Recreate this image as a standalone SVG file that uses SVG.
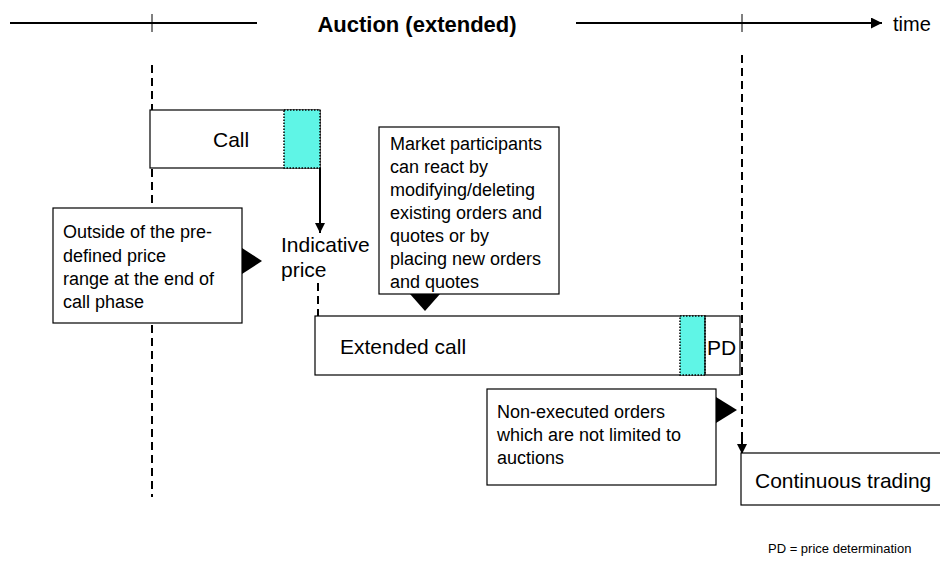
<svg xmlns="http://www.w3.org/2000/svg" width="940" height="580" viewBox="0 0 940 580">
<defs>
<marker id="ah" viewBox="0 0 10 10" refX="10" refY="5" markerWidth="5" markerHeight="5" orient="auto" markerUnits="strokeWidth">
<path d="M0,0 L10,5 L0,10 z" fill="#000"/>
</marker>
<style>
text{font-family:"Liberation Sans",Arial,sans-serif;fill:#000}
.big{font-size:21px}
.box{fill:#fff;stroke:#000;stroke-width:1.2}
.note{font-size:18px}
.cyan{fill:#5ff5e6;stroke:#000;stroke-width:1.5;stroke-dasharray:1.5 1.5}
.dash{stroke:#000;stroke-width:2;stroke-dasharray:8 5;fill:none}
.axis{stroke:#000;stroke-width:2.2;fill:none}
.tick{stroke:#000;stroke-width:1}
</style>
</defs>
<rect width="940" height="580" fill="#fff"/>

<g id="connectors">
<line class="dash" x1="152" y1="65" x2="152" y2="497"/>
<line class="dash" x1="318" y1="283" x2="318" y2="316"/>
<line class="dash" x1="742" y1="55" x2="742" y2="446"/>
<line x1="742" y1="440" x2="742" y2="454" stroke="#000" stroke-width="2" marker-end="url(#ah)"/>
<line x1="320" y1="168" x2="320" y2="233" stroke="#000" stroke-width="2" marker-end="url(#ah)"/>
</g>

<g id="timeline">
<line class="axis" x1="10" y1="23" x2="257" y2="23"/>
<line class="tick" x1="152" y1="14" x2="152" y2="32"/>
<line class="axis" x1="576" y1="23" x2="882" y2="23" marker-end="url(#ah)"/>
<line class="tick" x1="742" y1="14" x2="742" y2="32"/>
<text x="417" y="32" text-anchor="middle" font-size="22" font-weight="bold">Auction (extended)</text>
<text x="893" y="31" font-size="20">time</text>
</g>

<g id="call">
<rect class="box" x="150" y="110" width="170" height="58"/>
<rect class="cyan" x="284" y="110" width="36" height="58"/>
<text class="big" x="213" y="147">Call</text>
</g>

<g id="indicative-price">
<text class="big" x="281" y="252">Indicative</text>
<text class="big" x="281" y="277">price</text>
</g>

<g id="outside-note">
<rect class="box" x="53" y="208" width="189" height="115"/>
<path d="M242,248 L262,261 L242,274 z" fill="#000"/>
<text class="note" x="63" y="238">Outside of the pre-</text>
<text class="note" x="63" y="262">defined price</text>
<text class="note" x="63" y="285">range at the end of</text>
<text class="note" x="63" y="308">call phase</text>
</g>

<g id="market-note">
<rect class="box" x="379" y="127" width="180" height="167"/>
<path d="M410,294 L440,294 L425,311 z" fill="#000"/>
<text class="note" x="390" y="150">Market participants</text>
<text class="note" x="390" y="173">can react by</text>
<text class="note" x="390" y="196">modifying/deleting</text>
<text class="note" x="390" y="219">existing orders and</text>
<text class="note" x="390" y="242">quotes or by</text>
<text class="note" x="390" y="265">placing new orders</text>
<text class="note" x="390" y="288">and quotes</text>
</g>

<g id="extended-call">
<rect class="box" x="315" y="316" width="425" height="59"/>
<rect class="cyan" x="680" y="316" width="25" height="59"/>
<line x1="705" y1="316" x2="705" y2="375" stroke="#000" stroke-width="1.2"/>
<text class="big" x="340" y="354">Extended call</text>
<text class="big" x="707" y="355">PD</text>
</g>

<g id="nonexec-note">
<rect class="box" x="487" y="389" width="229" height="96"/>
<path d="M716,397 L737,410 L716,423 z" fill="#000"/>
<text class="note" x="497" y="418">Non-executed orders</text>
<text class="note" x="497" y="441">which are not limited to</text>
<text class="note" x="497" y="464">auctions</text>
</g>

<g id="continuous">
<rect class="box" x="741" y="453" width="205" height="52"/>
<text class="big" x="755" y="488">Continuous trading</text>
</g>

<text x="768" y="553" font-size="13">PD = price determination</text>
</svg>
